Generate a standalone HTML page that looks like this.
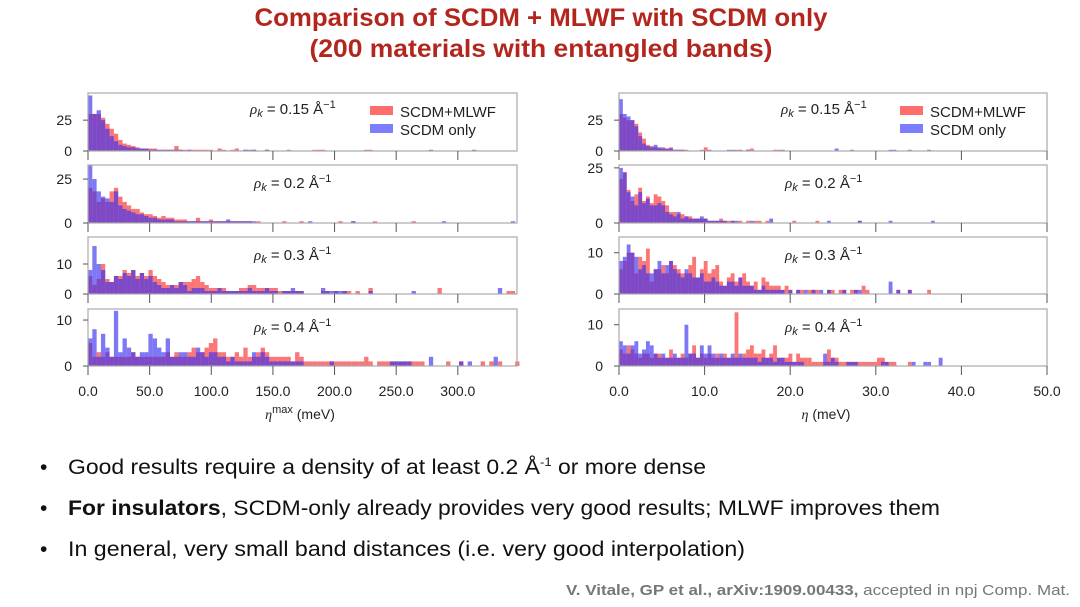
<!DOCTYPE html>
<html><head><meta charset="utf-8"><style>
html,body{margin:0;padding:0;background:#fff;}
svg{display:block;font-family:"Liberation Sans",sans-serif;}
</style></head><body>
<svg id="root" width="1080" height="607" viewBox="0 0 1080 607">
<text x="541" y="26" text-anchor="middle" font-size="25" font-weight="bold" fill="#b3261e" textLength="573" lengthAdjust="spacingAndGlyphs">Comparison of SCDM + MLWF with SCDM only</text>
<text x="541" y="57" text-anchor="middle" font-size="25" font-weight="bold" fill="#b3261e" textLength="463" lengthAdjust="spacingAndGlyphs">(200 materials with entangled bands)</text>
<g id="charts"></g>
<g font-size="21" fill="#111">
<text x="40" y="474">•</text>
<text x="68" y="474" textLength="638" lengthAdjust="spacingAndGlyphs">Good results require a density of at least 0.2 Å<tspan font-size="12" dy="-8">-1</tspan><tspan dy="8"> or more dense</tspan></text>
<text x="40" y="515">•</text>
<text x="68" y="515" textLength="872" lengthAdjust="spacingAndGlyphs"><tspan font-weight="bold">For insulators</tspan>, SCDM-only already provides very good results; MLWF improves them</text>
<text x="40" y="556">•</text>
<text x="68" y="556" textLength="677" lengthAdjust="spacingAndGlyphs">In general, very small band distances (i.e. very good interpolation)</text>
</g>
<text x="566" y="595" font-size="15" fill="#777" textLength="504" lengthAdjust="spacingAndGlyphs"><tspan font-weight="bold">V. Vitale, GP et al., arXiv:1909.00433,</tspan> accepted in npj Comp. Mat.</text>
</svg>
<script>
const L1red=[30,30,30,27,22,18,14,9,6,5,4,3,2,2,2,2,1,1,1,1,4,1,1,1,1,1,1,1,1,0,2,1,0,1,2,0,1,0,1,0,0,1,0,0,0,0,1,0,0,0,0,0,1,1,1,0,0,0,0,0,0,0,0,0,1,1];
const L1blue=[45,30,33,25,18,12,8,5,4,3,3,2,2,2,1,1,1,1,1,1,1,1,0,1,0,0,0,0,0,0,0,0,0,0,0,0,1,1,1,0,0,1,0,0,0,0,0,0,0,0,0,0,0,0,0,0,0,0,0,0,0,0,0,0,0,0,0,0,0,0,0,0,0,0,0,0,0,0,0,1,0,0,0,0,0,0,0,0,0,1];
const L2red=[20,18,12,14,12,18,20,15,12,10,8,8,6,5,5,4,3,4,3,3,2,2,2,1,1,3,1,1,2,1,1,1,1,1,1,1,1,1,0,1,0,0,0,0,0,1,0,0,0,1,0,0,0,0,0,0,0,0,1,0,0,1,0,0,0,0,1,0,0,0,0,0,0,0,0,1];
const L2blue=[33,25,18,15,14,12,18,10,8,7,6,5,5,4,3,3,2,2,2,2,1,1,1,1,1,1,1,1,1,1,1,1,2,1,1,1,1,1,1,0,0,0,0,0,0,0,0,0,0,0,0,1,0,0,0,0,0,0,0,0,0,1,0,0,0,0,0,0,0,0,0,0,0,0,0,0,0,0,0,0,0,0,1,0,0,0,0,0,0,0,0,0,0,0,0,0,0,0,1];
const L3red=[6,3,5,10,5,4,6,6,8,7,8,6,7,6,8,6,5,4,3,3,3,4,4,4,5,6,4,3,2,2,2,2,1,1,1,2,2,3,3,2,2,2,2,2,1,1,1,1,1,1,0,0,0,0,1,1,0,1,0,1,1,0,1,0,0,2,0,0,0,0,0,0,0,0,0,0,0,0,0,0,0,2,0,0,0,0,0,0,0,0,0,0,0,0,0,0,0,1,1];
const L3blue=[8,16,10,8,4,4,6,5,7,6,8,5,7,5,6,4,3,2,2,3,2,4,3,1,2,2,2,1,1,1,2,1,1,1,1,1,1,2,1,1,1,2,1,1,0,1,1,2,1,1,0,0,0,0,2,1,1,1,1,1,0,0,0,0,0,1,0,0,0,0,0,0,0,0,0,1,0,0,0,0,0,0,0,0,0,0,0,0,0,0,0,0,0,0,0,2];
const L4red=[5,2,3,2,3,2,2,2,2,2,3,2,2,2,2,2,2,2,3,2,3,2,2,3,4,3,3,4,5,6,3,3,2,2,3,2,4,2,2,3,4,3,2,2,2,2,2,1,3,2,1,1,1,1,1,1,1,1,1,1,1,1,1,1,2,1,0,1,1,1,1,1,1,1,1,1,1,1,0,0,0,0,0,1,0,0,1,0,0,0,0,1,0,1,0,1,0,0,0,1];
const L4blue=[6,8,2,7,4,2,12,3,6,4,3,2,3,3,7,6,4,3,6,2,2,3,3,2,2,4,3,2,3,3,2,2,1,2,1,1,1,1,3,2,3,2,1,1,1,1,1,1,1,1,0,0,0,0,0,0,1,0,0,0,0,0,0,0,0,0,0,0,0,0,1,1,1,1,1,0,0,0,0,2,0,0,0,0,0,0,1,0,1,0,0,0,0,0,2];
const R1red=[30,27,25,25,22,15,10,5,4,3,2,3,2,3,1,1,1,1,0,0,0,1,3,0,0,0,0,0,0,0,1,0,0,1,2,0,0,0,0,0,1,1];
const R1blue=[42,30,28,25,20,12,6,4,3,5,3,2,2,2,1,1,1,0,0,0,0,0,0,1,0,0,0,0,1,1,0,1,0,1,0,0,0,0,0,0,0,0,1,0,0,0,0,0,0,0,0,0,0,0,0,0,2,0,0,0,1,0,0,0,0,0,0,0,0,0,1,1,0,0,0,1,0,0,0,0,1];
const R2red=[20,23,15,10,13,16,10,12,9,13,12,10,8,5,5,4,4,3,3,2,2,2,2,1,1,1,2,1,1,1,0,1,0,1,0,1,1,0,1,0,0,0,0,0,0,1,0,0,0,0,0,1,0,0,0,0,0,0,0,0,0,0,1];
const R2blue=[25,23,14,12,8,14,9,11,8,8,9,8,5,4,3,5,2,3,2,2,2,3,2,1,1,1,1,1,0,1,1,0,0,0,1,0,0,0,0,2,0,0,0,0,0,0,0,0,0,0,0,0,0,0,1,0,0,0,0,0,0,0,1,0,0,0,0,0,0,0,1,0,0,0,0,0,0,0,0,0,0,1];
const R3red=[6,8,10,10,5,9,8,11,3,6,6,7,5,8,7,6,5,5,7,9,4,6,8,5,6,7,3,2,4,5,3,4,5,3,2,3,1,4,3,2,2,2,1,2,1,0,1,1,0,1,1,1,0,0,1,1,0,1,1,0,1,1,0,2,1,0,0,0,0,0,0,0,1,0,0,1,0,0,0,0,1];
const R3blue=[8,9,12,10,9,6,7,5,5,6,8,5,7,8,6,5,4,6,5,4,4,5,3,3,4,3,2,2,3,3,2,4,2,2,2,1,1,2,1,1,1,1,1,0,1,0,1,0,1,0,1,0,1,0,1,0,0,0,1,0,0,1,1,0,0,0,0,0,0,0,3,0,1,0,0,1,0,0,0,0,0];
const R4red=[4,3,5,4,3,2,3,3,2,3,3,2,2,4,2,2,3,2,3,5,2,3,2,3,2,3,2,3,2,2,13,2,3,4,5,3,3,4,2,3,5,2,2,2,3,1,3,2,2,2,1,1,1,1,4,2,2,1,1,1,1,1,1,1,1,1,1,2,2,1,1,1,0,0,0,1];
const R4blue=[6,5,3,5,6,3,4,6,5,3,2,3,2,2,3,2,2,10,3,3,2,5,3,5,3,2,3,2,2,3,2,3,2,2,2,2,1,2,2,2,1,2,2,1,1,1,1,1,0,0,0,0,0,3,1,2,1,0,0,1,1,1,0,0,0,0,0,0,1,1,0,0,0,0,0,0,1,0,0,1,1,0,0,2];
const leftTicks=[0,50,100,150,200,250,300];
const rightTicks=[0,10,20,30,40,50];
const rhoLabels=["0.15","0.2","0.3","0.4"];
const NS="http://www.w3.org/2000/svg";
const root=document.getElementById('charts');
function mk(t,a,p){const e=document.createElementNS(NS,t);for(const k in a)e.setAttribute(k,a[k]);(p||root).appendChild(e);return e;}
const panelsY=[[93,151],[165,223],[237,294],[309,366]];
function chart(side){
  const L=side==='L';
  const x0=L?88:619, x1=L?517:1047, xmax=L?348:50, bw=L?3.5:0.45;
  const xs=v=>x0+(x1-x0)*v/xmax;
  const sets=L?[[L1red,L1blue],[L2red,L2blue],[L3red,L3blue],[L4red,L4blue]]:[[R1red,R1blue],[R2red,R2blue],[R3red,R3blue],[R4red,R4blue]];
  const ymaxes=L?[47,33,19,12.4]:[47,26.3,13.8,13.8];
  const yt=[[0,25],[0,25],[0,10],[0,10]];
  const ticks=L?leftTicks:rightTicks;
  sets.forEach((s,pi)=>{
    const [top,bot]=panelsY[pi];
    const g=mk('g',{});
    
    
    const ys=v=>bot-(bot-top)*v/ymaxes[pi];
    s.forEach((arr,si)=>{
      arr.forEach((c,i)=>{
        if(!c)return;
        const r=mk('rect',{x:xs(i*bw),y:ys(c),width:Math.max(xs(bw)-x0,0.5),height:bot-ys(c),fill:si?'rgba(60,50,240,0.66)':'rgba(250,60,60,0.7)'},g);
        
        
      });
    });
    const f=mk('rect',{x:x0,y:top,width:x1-x0,height:bot-top,fill:'none',stroke:'#aaa','stroke-width':1.2},g);
    
    
    yt[pi].forEach(v=>{
      mk('line',{x1:x0-5,x2:x0,y1:ys(v),y2:ys(v),stroke:'#555'},g);
      const t=mk('text',{x:x0-16,y:ys(v)+5,'text-anchor':'end','font-size':14,fill:'#222'},g);
      t.textContent=v;
      
      
    });
    ticks.forEach(v=>{ if(v<=xmax+0.1) mk('line',{x1:xs(v),x2:xs(v),y1:bot,y2:bot+9,stroke:'#555'},g);});
    const lx=L?(pi==0?250:254):(pi==0?781:785);
    const t=mk('text',{x:lx,y:(pi==0?114:top+23),'font-size':15,fill:'#222'},g);
    t.innerHTML='<tspan font-style="italic" font-family="Liberation Serif">ρ</tspan><tspan font-size="11" dy="3" font-style="italic">k</tspan><tspan dy="-3"> = '+rhoLabels[pi]+' Å</tspan><tspan font-size="11" dy="-6">−1</tspan>';
    
    
    if(pi==0){
      const lg=mk('g',{},g);
      
      
      const lx2=L?370:900;
      mk('rect',{x:lx2,y:106,width:23,height:9,fill:'rgba(255,60,60,0.75)'},lg);
      mk('rect',{x:lx2,y:124,width:23,height:9,fill:'rgba(70,70,255,0.7)'},lg);
      const a=mk('text',{x:lx2+30,y:117,'font-size':15,fill:'#222'},lg);a.textContent='SCDM+MLWF';
      
      
      const b=mk('text',{x:lx2+30,y:135,'font-size':15,fill:'#222'},lg);b.textContent='SCDM only';
      
      
    }
  });
  ticks.forEach(v=>{
    const t=mk('text',{x:xs(v),y:396,'text-anchor':'middle','font-size':14,fill:'#222'});
    t.textContent=v.toFixed(1);
    
    
  });
  const xt=mk('text',{x:L?300:826,y:419,'text-anchor':'middle','font-size':14,fill:'#222'});
  xt.innerHTML=L?'<tspan font-style="italic" font-family="Liberation Serif">η</tspan><tspan font-size="11" dy="-6">max</tspan><tspan dy="6"> (meV)</tspan>':'<tspan font-style="italic" font-family="Liberation Serif">η</tspan> (meV)';
  
  
}
chart('L');chart('R');
</script>
</body></html>
